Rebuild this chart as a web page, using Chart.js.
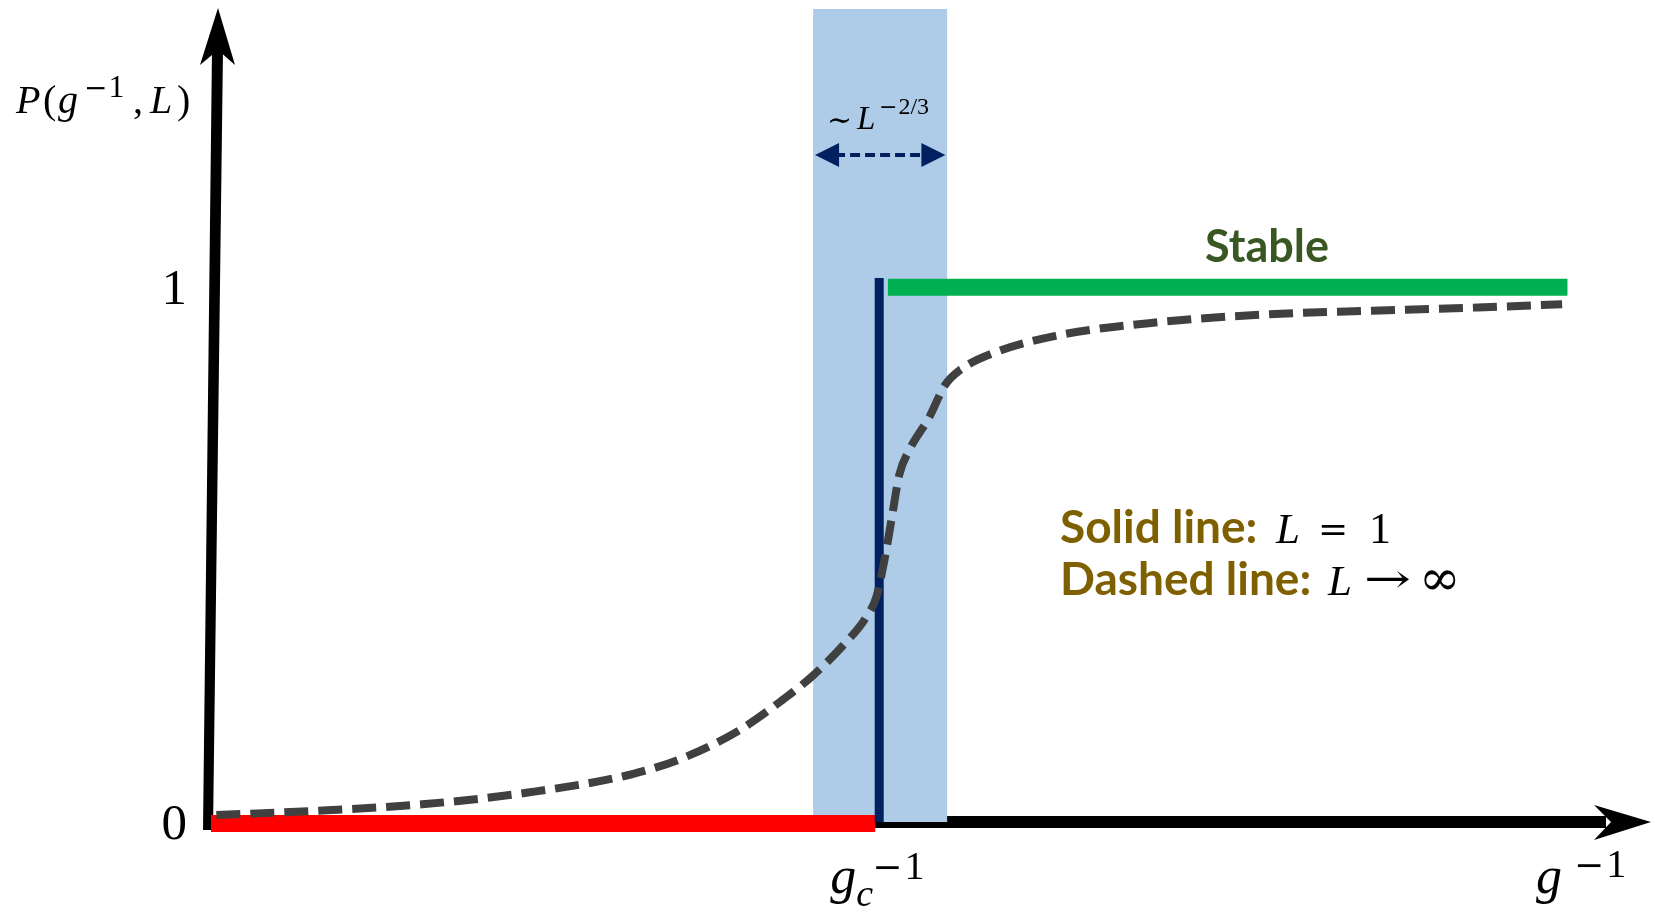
<!DOCTYPE html>
<html>
<head>
<meta charset="utf-8">
<script src="https://cdn.jsdelivr.net/npm/chart.js@4.4.1/dist/chart.umd.min.js"></script>
<style>
  html, body { margin: 0; padding: 0; background: #fff; }
  #chart { display: block; }
</style>
</head>
<body>
<canvas id="chart" width="1655" height="916"></canvas>
<script>
// dashed curve (L -> infinity)
const curveX = [0.008, 0.158, 0.316, 0.474, 0.632, 0.711, 0.790, 0.853, 0.901, 0.948, 0.980, 0.996, 1.008, 1.019, 1.030, 1.046, 1.075, 1.098, 1.122, 1.169, 1.264, 1.422, 1.580, 1.738, 1.896, 2.022];
const curveY = [0.013, 0.021, 0.033, 0.055, 0.090, 0.122, 0.171, 0.226, 0.274, 0.333, 0.382, 0.422, 0.491, 0.570, 0.649, 0.698, 0.757, 0.816, 0.846, 0.876, 0.909, 0.935, 0.949, 0.956, 0.962, 0.968];

// solid line (L = 1): zero below g_c, step, one above
const unstableX = [0, 0.994];
const unstableY = [-0.003, -0.003];
const stepX = [1, 1];
const stepY = [0, 1.017];
const stableX = [1.013, 2.03];
const stableY = [1, 1];

// critical window ~ L^(-2/3)
const bandX = [0.901, 1.102];
const bandTop = 1.523;
const gcValue = 1;

const yTicks = [0, 1];
const yTickLabels = ["0", "1"];

function pts(xs, ys) {
    return xs.map((x, i) => ({ x: x, y: ys[i] }));
}

// draw a row of text pieces; a piece without x follows the previous one
function drawPieces(ctx, pieces) {
    let cx = 0;
    pieces.forEach(p => {
        ctx.font = p.f;
        ctx.fillStyle = p.c || "#000";
        ctx.textAlign = p.a || "left";
        ctx.textBaseline = "alphabetic";
        const x = (p.x !== undefined ? p.x : cx) + (p.dx || 0);
        const sx = p.sx || 1;
        ctx.save();
        ctx.translate(x, p.y);
        ctx.scale(sx, 1);
        ctx.fillText(p.t, 0, 0);
        ctx.restore();
        cx = x + ctx.measureText(p.t).width * sx;
    });
}

const SERIF = '"Liberation Serif", "DejaVu Serif", serif';
const MATH = '"DejaVu Serif", serif';
const SANS = 'Lato, "Open Sans", sans-serif';

const decorPlugin = {
    id: "decor",
    beforeDatasetsDraw(chart) {
        const ctx = chart.ctx;
        const xs = chart.scales.x, ys = chart.scales.y;
        const x0 = xs.getPixelForValue(0), y0 = ys.getPixelForValue(0);
        const top = chart.chartArea.top, right = chart.chartArea.right;
        ctx.save();
        ctx.fillStyle = "#000";
        // x axis
        ctx.fillRect(x0 - 5, y0 - 6, right - 40 - x0, 12);
        ctx.beginPath();
        ctx.moveTo(right, y0);
        ctx.lineTo(right - 57, y0 - 17);
        ctx.lineTo(right - 40, y0);
        ctx.lineTo(right - 57, y0 + 18);
        ctx.closePath();
        ctx.fill();
        // y axis (slightly leaning, as in the sketch)
        ctx.beginPath();
        ctx.moveTo(x0 - 8, y0 + 8);
        ctx.lineTo(x0 + 2, y0 + 8);
        ctx.lineTo(x0 + 12, top + 41);
        ctx.lineTo(x0 + 1, top + 41);
        ctx.closePath();
        ctx.fill();
        ctx.beginPath();
        ctx.moveTo(x0 + 7, top - 1);
        ctx.lineTo(x0 + 24, top + 56);
        ctx.lineTo(x0 + 7, top + 41);
        ctx.lineTo(x0 - 11, top + 56);
        ctx.closePath();
        ctx.fill();
        ctx.restore();
    },
    afterDatasetsDraw(chart) {
        const ctx = chart.ctx;
        const xs = chart.scales.x, ys = chart.scales.y;
        ctx.save();
        // dashed double arrow across the band
        const ay = ys.getPixelForValue(1.247);
        const ax1 = xs.getPixelForValue(bandX[0]) + 2, ax2 = xs.getPixelForValue(bandX[1]) - 2;
        ctx.strokeStyle = "#002060";
        ctx.fillStyle = "#002060";
        ctx.lineWidth = 4;
        ctx.setLineDash([10, 5]);
        ctx.beginPath();
        ctx.moveTo(ax1 + 20, ay);
        ctx.lineTo(ax2 - 20, ay);
        ctx.stroke();
        ctx.setLineDash([]);
        [[ax1, 1], [ax2, -1]].forEach(([tx, d]) => {
            ctx.beginPath();
            ctx.moveTo(tx, ay);
            ctx.lineTo(tx + d * 24, ay - 12);
            ctx.lineTo(tx + d * 24, ay + 12);
            ctx.closePath();
            ctx.fill();
        });

        // y tick labels
        yTicks.forEach((v, i) => {
            drawPieces(ctx, [{ t: yTickLabels[i], f: "51px " + SERIF, x: 187, y: ys.getPixelForValue(v) + 17, a: "right" }]);
        });

        // axis titles
        drawPieces(ctx, [
            { t: "P", f: "italic 40px " + SERIF, x: 16, y: 113 },
            { t: "(", f: "40px " + SERIF, x: 43, y: 113 },
            { t: "g", f: "italic 40px " + SERIF, x: 58, y: 113 },
            { t: "\u2212", f: "28px " + MATH, x: 84, y: 97 },
            { t: "1", f: "32px " + SERIF, dx: 1, y: 97 },
            { t: ",", f: "40px " + SERIF, x: 133, y: 113 },
            { t: "L", f: "italic 40px " + SERIF, x: 150, y: 113 },
            { t: ")", f: "40px " + SERIF, x: 177, y: 113 }
        ]);
        const gx = xs.getPixelForValue(gcValue);
        drawPieces(ctx, [
            { t: "g", f: "italic 52px " + SERIF, x: gx - 49, y: 893 },
            { t: "c", f: "italic 38px " + SERIF, x: gx - 23, y: 906 },
            { t: "\u2212", f: "36px " + MATH, x: gx - 7, y: 879 },
            { t: "1", f: "40px " + SERIF, dx: 2, y: 879 }
        ]);
        drawPieces(ctx, [
            { t: "g", f: "italic 52px " + SERIF, x: 1536, y: 893 },
            { t: "\u2212", f: "36px " + MATH, x: 1574, y: 877 },
            { t: "1", f: "40px " + SERIF, dx: 2, y: 877 }
        ]);

        // band label
        drawPieces(ctx, [
            { t: "\u223C", f: "30px " + MATH, x: 827, y: 130 },
            { t: "L", f: "italic 33px " + SERIF, x: 857, y: 129 },
            { t: "\u2212", f: "22px " + MATH, x: 879, y: 114 },
            { t: "2/3", f: "24px " + SERIF, dx: 1, y: 114 }
        ]);

        // stable label
        drawPieces(ctx, [{ t: "Stable", f: "bold 45px " + SANS, c: "#385723", x: 1267, y: 262, a: "center" }]);

        // legend text
        drawPieces(ctx, [
            { t: "Solid line:", f: "bold 46px " + SANS, c: "#7F6000", x: 1060, y: 543 },
            { t: "L", f: "italic 43px " + SERIF, x: 1276, y: 543 },
            { t: "=", f: "36px " + MATH, x: 1318, y: 541 },
            { t: "1", f: "44px " + SERIF, x: 1369, y: 543 },
            { t: "Dashed line:", f: "bold 46px " + SANS, c: "#7F6000", x: 1060, y: 595 },
            { t: "L", f: "italic 43px " + SERIF, x: 1328, y: 595 },
            { t: "\u2192", f: "40px " + MATH, x: 1364, y: 592, sx: 1.4 },
            { t: "\u221E", f: "50px " + MATH, x: 1419, y: 595 }
        ]);
        ctx.restore();
    }
};

const ctx = document.getElementById("chart");
new Chart(ctx, {
    type: "line",
    data: {
        datasets: [{
            label: "window",
            data: pts(bandX, [bandTop, bandTop]),
            borderWidth: 0,
            pointRadius: 0,
            backgroundColor: "#AECCE8",
            fill: "origin",
            order: 9
        }, {
            label: "unstable",
            data: pts(unstableX, unstableY),
            borderColor: "#FF0000",
            borderWidth: 17,
            pointRadius: 0,
            order: 5
        }, {
            label: "step",
            data: pts(stepX, stepY),
            borderColor: "#002060",
            borderWidth: 9,
            pointRadius: 0,
            order: 4
        }, {
            label: "stable",
            data: pts(stableX, stableY),
            borderColor: "#00B050",
            borderWidth: 17,
            pointRadius: 0,
            order: 3
        }, {
            label: "L to infinity",
            data: pts(curveX, curveY),
            borderColor: "#404040",
            borderWidth: 8,
            borderDash: [24, 10],
            borderCapStyle: "butt",
            cubicInterpolationMode: "monotone",
            pointRadius: 0,
            order: 1
        }]
    },
    options: {
        responsive: false,
        animation: false,
        events: [],
        clip: false,
        layout: { padding: { left: 211, right: 4, top: 9, bottom: 94 } },
        plugins: { legend: { display: false }, tooltip: { enabled: false } },
        scales: {
            x: { type: "linear", min: 0, max: 2.155, display: false },
            y: { type: "linear", min: 0, max: 1.52, display: false }
        }
    },
    plugins: [decorPlugin]
});
</script>
</body>
</html>
